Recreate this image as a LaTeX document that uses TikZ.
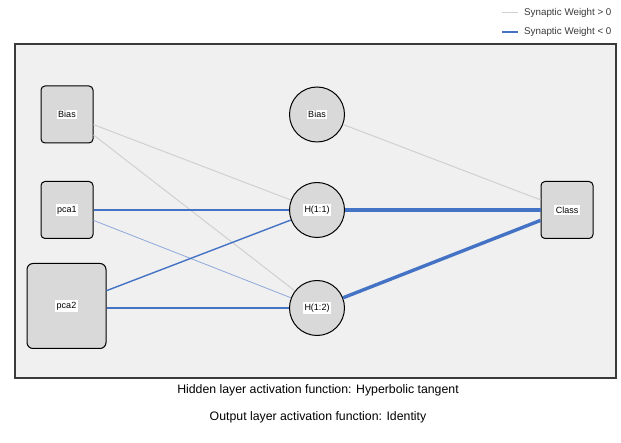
\documentclass[tikz,border=0pt]{standalone}
\usepackage{fontspec}
\setmainfont{Liberation Sans}
\definecolor{panelgray}{HTML}{F0F0F0}
\definecolor{nodegray}{HTML}{D9D9D9}
\definecolor{posgray}{HTML}{D0D0D0}
\definecolor{negblue}{HTML}{4472C4}
\definecolor{lightblue}{HTML}{8FA8DA}
\definecolor{framegray}{HTML}{3A3A3A}
\newcommand\nodelab[1]{{\setlength{\fboxsep}{1.5pt}\colorbox{white}{\fontsize{9}{10}\selectfont #1}}}
\begin{document}
\begin{tikzpicture}[x=1pt,y=-1pt,
  inbox/.style={draw=black,line width=1pt,fill=nodegray,rounded corners=4pt,minimum width=52pt,minimum height=57pt,inner sep=0pt},
  bigbox/.style={inbox,minimum width=79pt,minimum height=85pt,rounded corners=6pt},
  hid/.style={circle,draw=black,line width=1pt,fill=nodegray,minimum size=55pt,inner sep=0pt},
  poswt/.style={draw=posgray,line width=1pt},
  negwt/.style={draw=negblue,line width=1.4pt},
  negthin/.style={draw=lightblue,line width=0.8pt},
  negthick/.style={draw=negblue,line width=3.4pt},
  legtext/.style={anchor=west,text=framegray,font=\fontsize{9.8}{11}\selectfont,inner sep=0pt},
  caption/.style={font=\fontsize{12.3}{14}\selectfont,inner sep=0pt}
]
\useasboundingbox (0,0) rectangle (621,443);
% legend
\coordinate (lp1) at (502,13); \coordinate (lp2) at (518,13);
\coordinate (ln1) at (502,32); \coordinate (ln2) at (518,32);
\draw[poswt] (lp1) -- (lp2);
\draw[negblue,line width=1.6pt] (ln1) -- (ln2);
\node[legtext] (lgp) at (524,13) {Synaptic Weight > 0};
\node[legtext] (lgn) at (524,32) {Synaptic Weight < 0};
% panel
\draw[framegray,line width=1.6pt,fill=panelgray] (15,44) rectangle (616,378);
% nodes
\node[inbox] (b1) at (67,114.5) {\nodelab{Bias}};
\node[inbox] (p1) at (67,210) {\nodelab{pca1}};
\node[bigbox] (p2) at (66.5,306) {\nodelab{pca2}};
\node[hid] (b2) at (317,114.5) {\nodelab{Bias}};
\node[hid] (h1) at (317,210) {\nodelab{H(1:1)}};
\node[hid] (h2) at (317,308) {\nodelab{H(1:2)}};
\node[inbox] (out) at (567,210) {\nodelab{Class}};
% connectors
\draw[poswt] (b1) -- (h1);
\draw[poswt] (b1) -- (h2);
\draw[negwt] (p1) -- (h1);
\draw[negthin] (p1) -- (h2);
\draw[negwt] (p2) -- (h1);
\draw[negwt] (p2.east |- h2) -- (h2);
\draw[poswt] (b2) -- (out);
\draw[negthick] (h1) -- (out);
\draw[negthick] (h2) -- (out);
% captions
\node[caption] (c1) at (318,390) {Hidden layer activation function: Hyperbolic tangent};
\node[caption] (c2) at (318,417) {Output layer activation function: Identity};
\end{tikzpicture}
\end{document}
